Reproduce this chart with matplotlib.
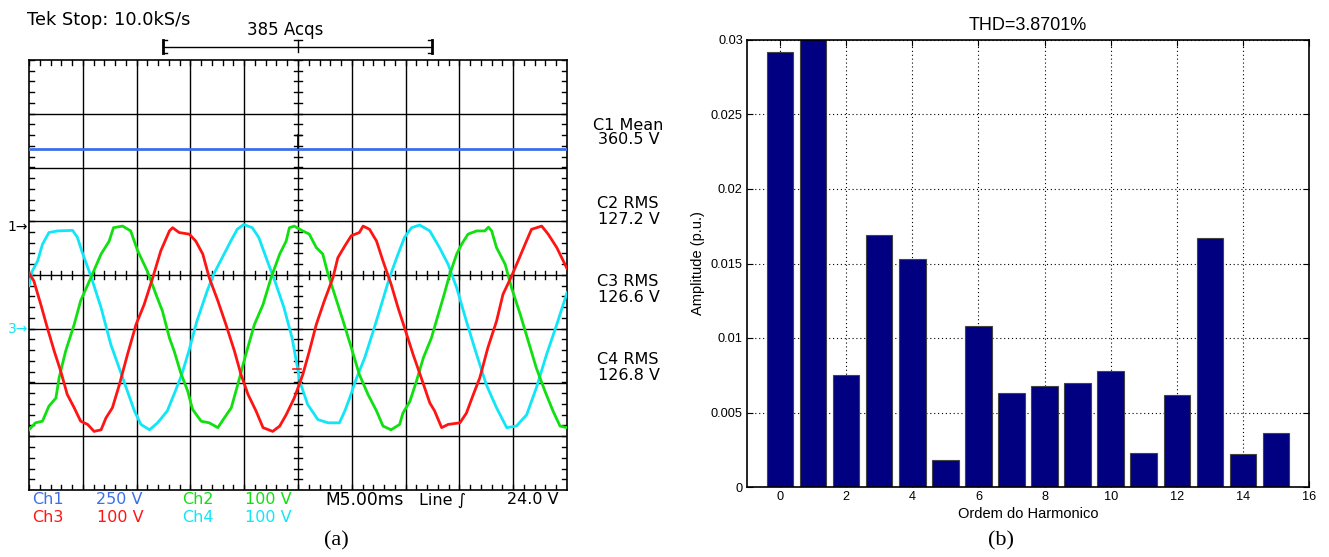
import matplotlib
matplotlib.use("Agg")
import matplotlib.pyplot as plt
import numpy as np

W, H = 1329, 557

# scope traces, in divisions (x: 0..10, y: -4..4 from centre line)
ch1_trace = [(0.00, 2.34), (10.00, 2.34)]

ch2_trace = [
    (0.00, -2.88), (0.12, -2.75), (0.25, -2.72), (0.37, -2.44), (0.50, -2.29), (0.56, -1.91),
    (0.68, -1.42), (0.84, -0.92), (0.96, -0.48), (1.15, -0.05), (1.34, 0.39), (1.49, 0.63),
    (1.57, 0.88), (1.74, 0.91), (1.89, 0.82), (2.02, 0.45), (2.20, 0.07), (2.36, -0.36),
    (2.48, -0.67), (2.61, -1.17), (2.70, -1.42), (2.82, -1.82), (2.95, -2.16), (3.04, -2.50),
    (3.20, -2.72), (3.35, -2.75), (3.51, -2.84), (3.63, -2.66), (3.76, -2.47), (3.88, -2.04),
    (4.03, -1.48), (4.19, -0.92), (4.35, -0.55), (4.50, -0.05), (4.66, 0.39), (4.78, 0.63),
    (4.84, 0.88), (4.93, 0.91), (5.09, 0.82), (5.21, 0.76), (5.34, 0.51), (5.46, 0.39),
    (5.56, 0.01), (5.68, -0.36), (5.84, -0.86), (5.99, -1.35), (6.14, -1.85), (6.30, -2.22),
    (6.46, -2.53), (6.58, -2.81), (6.73, -2.88), (6.89, -2.78), (6.95, -2.57), (7.08, -2.35),
    (7.20, -1.98), (7.33, -1.54), (7.48, -1.17), (7.57, -0.86), (7.70, -0.42), (7.82, 0.01),
    (7.95, 0.39), (8.04, 0.57), (8.16, 0.76), (8.32, 0.82), (8.47, 0.82), (8.54, 0.89),
    (8.60, 0.82), (8.69, 0.51), (8.85, 0.20), (8.97, -0.24), (9.13, -0.73), (9.28, -1.23),
    (9.43, -1.73), (9.59, -2.16), (9.74, -2.53), (9.87, -2.81), (10.00, -2.84),
]

ch3_trace = [
    (0.00, 0.04), (0.09, -0.11), (0.22, -0.55), (0.34, -0.98), (0.47, -1.42), (0.59, -1.79),
    (0.71, -2.22), (0.84, -2.47), (0.96, -2.72), (1.09, -2.78), (1.21, -2.91), (1.34, -2.88),
    (1.43, -2.66), (1.55, -2.47), (1.68, -2.04), (1.83, -1.48), (1.99, -0.92), (2.14, -0.55),
    (2.30, -0.05), (2.45, 0.45), (2.61, 0.82), (2.67, 0.88), (2.79, 0.79), (2.98, 0.76),
    (3.10, 0.63), (3.23, 0.39), (3.35, -0.05), (3.51, -0.48), (3.66, -0.92), (3.82, -1.42),
    (3.94, -1.85), (4.07, -2.22), (4.22, -2.53), (4.35, -2.84), (4.53, -2.91), (4.66, -2.81),
    (4.78, -2.60), (4.93, -2.29), (5.09, -1.85), (5.21, -1.42), (5.34, -0.92), (5.49, -0.48),
    (5.65, -0.05), (5.74, 0.32), (5.87, 0.54), (5.99, 0.73), (6.14, 0.79), (6.21, 0.91),
    (6.33, 0.85), (6.46, 0.63), (6.58, 0.26), (6.73, -0.17), (6.86, -0.61), (6.98, -0.98),
    (7.14, -1.48), (7.29, -1.91), (7.45, -2.38), (7.54, -2.53), (7.67, -2.84), (7.79, -2.78),
    (8.01, -2.75), (8.13, -2.57), (8.26, -2.22), (8.38, -1.91), (8.53, -1.35), (8.69, -0.86),
    (8.81, -0.36), (8.97, -0.02), (9.09, 0.26), (9.22, 0.57), (9.34, 0.85), (9.53, 0.91),
    (9.65, 0.76), (9.81, 0.51), (10.00, 0.12),
]

ch4_trace = [
    (0.00, -0.20), (0.06, 0.07), (0.16, 0.26), (0.25, 0.57), (0.37, 0.79), (0.53, 0.82),
    (0.81, 0.83), (0.90, 0.70), (0.99, 0.42), (1.15, -0.02), (1.34, -0.61), (1.52, -1.29),
    (1.74, -1.91), (1.96, -2.53), (2.08, -2.78), (2.24, -2.88), (2.39, -2.75), (2.57, -2.53),
    (2.72, -2.16), (2.84, -1.85), (2.97, -1.42), (3.12, -0.86), (3.31, -0.30), (3.43, 0.01),
    (3.59, 0.32), (3.75, 0.63), (3.87, 0.85), (3.99, 0.94), (4.15, 0.88), (4.27, 0.70),
    (4.43, 0.26), (4.58, -0.14), (4.74, -0.61), (4.89, -1.17), (5.04, -2.00), (5.18, -2.41),
    (5.37, -2.69), (5.56, -2.75), (5.77, -2.75), (5.87, -2.53), (5.96, -2.29), (6.08, -1.94),
    (6.24, -1.54), (6.39, -1.07), (6.55, -0.55), (6.70, -0.05), (6.86, 0.39), (6.98, 0.70),
    (7.11, 0.88), (7.26, 0.93), (7.45, 0.82), (7.63, 0.51), (7.79, 0.20), (7.95, -0.24),
    (8.13, -0.86), (8.32, -1.48), (8.50, -2.04), (8.69, -2.47), (8.88, -2.84), (9.06, -2.81),
    (9.25, -2.60), (9.43, -2.10), (9.62, -1.48), (9.81, -0.92), (10.00, -0.33),
]

ch_colors = {"ch1": "#3c6fe8", "ch2": "#10e010", "ch3": "#ff1414", "ch4": "#10e6f8"}

readout_names = ["C1 Mean", "C2 RMS", "C3 RMS", "C4 RMS"]
readout_values = ["360.5 V", "127.2 V", "126.6 V", "126.8 V"]

# harmonic spectrum (b)
harm_order = list(range(16))
harm_amp = [0.0292, 0.0302, 0.0075, 0.0169, 0.0153, 0.0018, 0.0108, 0.0063,
            0.0068, 0.0070, 0.0078, 0.0023, 0.0062, 0.0167, 0.0022, 0.0036]
ytick_vals = [0, 0.005, 0.01, 0.015, 0.02, 0.025, 0.03]
ytick_labels = ["0", "0.005", "0.01", "0.015", "0.02", "0.025", "0.03"]
xtick_vals = list(range(0, 17, 2))
thd_title = "THD=3.8701%"


def box(x0, y0, x1, y1):
    # pixel box (top-left origin) -> figure fraction rect
    return [x0 / W, 1 - y1 / H, (x1 - x0) / W, (y1 - y0) / H]


fig = plt.figure(figsize=(W / 100, H / 100), dpi=100)

# ---------- (a) oscilloscope screen ----------
ax = fig.add_axes(box(29, 60, 567, 490))
ax.set_xlim(0, 10)
ax.set_ylim(-4, 4)
ax.set_xticks([])
ax.set_yticks([])
for s in ax.spines.values():
    s.set_color("black")
    s.set_linewidth(1.2)

for i in range(1, 10):
    ax.axvline(i, color="black", lw=1.0, zorder=1)
for j in range(-3, 4):
    ax.axhline(j, color="black", lw=1.0, zorder=1)

tk = 0.09
for xm in np.arange(0, 10.01, 0.2):
    ax.plot([xm, xm], [4, 4 - tk], color="black", lw=1.0, zorder=1)
    ax.plot([xm, xm], [-4, -4 + tk], color="black", lw=1.0, zorder=1)
    ax.plot([xm, xm], [-tk * 0.8, tk * 0.8], color="black", lw=1.0, zorder=1)
for ym in np.arange(-4, 4.01, 0.2):
    ax.plot([0, tk], [ym, ym], color="black", lw=1.0, zorder=1)
    ax.plot([10, 10 - tk], [ym, ym], color="black", lw=1.0, zorder=1)
    ax.plot([5 - tk * 0.8, 5 + tk * 0.8], [ym, ym], color="black", lw=1.0, zorder=1)

for key, trace in [("ch1", ch1_trace), ("ch4", ch4_trace), ("ch2", ch2_trace), ("ch3", ch3_trace)]:
    xs, ys = np.array(trace).T
    ax.plot(xs, ys, color=ch_colors[key], lw=2.0, zorder=3, solid_joinstyle="round")

# overlay in pixel coordinates for screen annotations
ov = fig.add_axes([0, 0, 1, 1])
ov.set_xlim(0, W)
ov.set_ylim(H, 0)
ov.axis("off")

sf = dict(family="DejaVu Sans", fontsize=11.5)
ov.text(27, 20, "Tek Stop: 10.0kS/s", ha="left", va="center", family="DejaVu Sans", fontsize=12.8)
ov.text(285, 30, "385 Acqs", ha="center", va="center", family="DejaVu Sans", fontsize=12)
ov.plot([163, 432], [47, 47], color="black", lw=1.0)
ov.plot([163, 163], [40, 53], color="black", lw=2.0)
ov.plot([432, 432], [40, 53], color="black", lw=2.0)
ov.plot([163, 167], [40, 40], color="black", lw=1.0)
ov.plot([163, 167], [53, 53], color="black", lw=1.0)
ov.plot([428, 432], [40, 40], color="black", lw=1.0)
ov.plot([428, 432], [53, 53], color="black", lw=1.0)
ov.plot([298, 298], [40, 52], color="black", lw=1.0)
ov.plot([294, 302], [40, 40], color="black", lw=1.0)
ov.plot([298, 298], [135, 148], color="black", lw=1.2)
ov.plot([295, 301], [135, 135], color="black", lw=1.0)
ov.plot([293, 301], [369, 369], color=ch_colors["ch3"], lw=1.2)

ov.text(18, 227, "1\u2192", ha="center", va="center", color="black", fontsize=10, family="DejaVu Sans")
ov.text(18, 329, "3\u2192", ha="center", va="center", color=ch_colors["ch4"], fontsize=10, family="DejaVu Sans")

for k, (name, val) in enumerate(zip(readout_names, readout_values)):
    yc = [125, 204, 282, 360][k]
    ov.text(628, yc, name, ha="center", va="center", **sf)
    ov.text(629, yc + 15, val, ha="center", va="center", **sf)

row1, row2 = 500, 517
ov.text(32, row1, "Ch1", color=ch_colors["ch1"], ha="left", va="center", **sf)
ov.text(96, row1, "250 V", color=ch_colors["ch1"], ha="left", va="center", **sf)
ov.text(182, row1, "Ch2", color=ch_colors["ch2"], ha="left", va="center", **sf)
ov.text(245, row1, "100 V", color=ch_colors["ch2"], ha="left", va="center", **sf)
ov.text(325, row1, "M5.00ms", color="black", ha="left", va="center", family="DejaVu Sans", fontsize=12.3)
ov.text(419, row1, "Line \u222b", color="black", ha="left", va="center", **sf)
ov.text(507, row1, "24.0 V", color="black", ha="left", va="center", **sf)
ov.text(32, row2, "Ch3", color=ch_colors["ch3"], ha="left", va="center", **sf)
ov.text(97, row2, "100 V", color=ch_colors["ch3"], ha="left", va="center", **sf)
ov.text(182, row2, "Ch4", color=ch_colors["ch4"], ha="left", va="center", **sf)
ov.text(245, row2, "100 V", color=ch_colors["ch4"], ha="left", va="center", **sf)

ov.text(336, 541, "(a)", ha="center", va="center", fontsize=16, family="Liberation Serif")
ov.text(1001, 541, "(b)", ha="center", va="center", fontsize=16, family="Liberation Serif")

# ---------- (b) harmonic spectrum ----------
bx = fig.add_axes(box(747, 40, 1309, 487))
bx.bar(harm_order, harm_amp, width=0.8, color="#000080", edgecolor="#444444", linewidth=0.8, zorder=2)
bx.set_xlim(-1, 16)
bx.set_ylim(0, 0.03)
bx.set_xticks(xtick_vals)
bx.set_yticks(ytick_vals)
bx.set_yticklabels(ytick_labels)
bx.set_axisbelow(True)
bx.grid(True, linestyle=(0, (1, 2.5)), color="black", linewidth=0.8)
bx.tick_params(direction="in", top=True, right=True, length=4, labelsize=9.2, pad=3)
for lab in bx.get_xticklabels() + bx.get_yticklabels():
    lab.set_family("Liberation Sans")
for s in bx.spines.values():
    s.set_linewidth(1.2)
bx.set_title(thd_title, fontsize=13, family="Liberation Sans", pad=7)
bx.set_xlabel("Ordem do Harmonico", fontsize=10.5, family="Liberation Sans", labelpad=3)
bx.set_ylabel("Amplitude (p.u.)", fontsize=10.5, family="Liberation Sans", labelpad=4)

fig.savefig("out.png", dpi=100)
